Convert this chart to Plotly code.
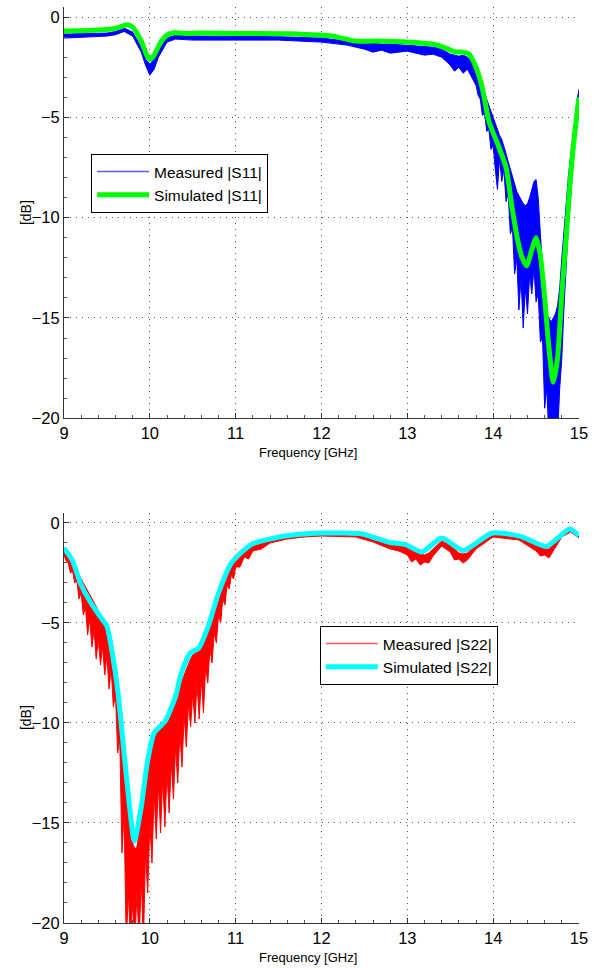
import plotly.graph_objects as go

# ---------------- data: |S11| ----------------
s11_sim_f = [9.0, 9.2, 9.4, 9.55, 9.65, 9.73, 9.8, 9.9, 9.97, 10.0, 10.05, 10.12, 10.2, 10.28,
             10.4, 10.6, 11.0, 11.5, 11.72, 12.1, 12.4, 12.63, 13.02, 13.32, 13.45, 13.55, 13.65,
             13.72, 13.8, 13.86, 13.9, 13.95, 14.05, 14.15, 14.22, 14.28, 14.33, 14.39, 14.45,
             14.5, 14.55, 14.6, 14.65, 14.7, 14.75, 14.8, 14.85, 14.9, 14.95, 15.0]
s11_sim = [-0.7, -0.68, -0.65, -0.6, -0.5, -0.38, -0.5, -1.2, -1.95, -2.1, -1.9, -1.3, -0.9, -0.78,
           -0.82, -0.8, -0.82, -0.83, -0.85, -0.93, -1.2, -1.2, -1.26, -1.37, -1.55, -1.74, -1.75,
           -1.85, -2.5, -3.3, -4.1, -5.2, -6.3, -7.5, -9.5, -11.0, -11.9, -12.4, -11.6,
           -11.0, -11.9, -14.0, -16.5, -18.2, -17.0, -13.8, -11.0, -8.0, -5.8, -4.0]

s11_meas_f = [9.0, 9.3, 9.5, 9.6, 9.7, 9.8, 9.9, 9.95, 10.0, 10.05, 10.1, 10.2, 10.3, 10.5, 11.0,
              11.5, 12.0, 12.3, 12.5, 12.6, 12.7, 12.8, 13.0, 13.2, 13.3, 13.4, 13.5, 13.55, 13.6,
              13.65, 13.7, 13.75,
              13.8, 13.825, 13.85, 13.875, 13.9, 13.925, 13.95, 13.975, 14.0, 14.025, 14.05, 14.075,
              14.1, 14.125, 14.15, 14.175, 14.2, 14.225, 14.25, 14.275, 14.3, 14.325, 14.35, 14.375,
              14.4, 14.425, 14.45, 14.475, 14.5, 14.525, 14.55, 14.575, 14.6, 14.625, 14.65, 14.675,
              14.7, 14.725, 14.75, 14.775, 14.8, 14.825, 14.85, 14.875, 14.9, 14.925, 14.95, 14.975,
              15.0]
s11_meas_hi = [-0.85, -0.82, -0.8, -0.72, -0.55, -0.75, -1.5, -2.1, -2.35, -2.1, -1.6, -1.05, -0.9,
               -0.95, -0.97, -0.98, -1.05, -1.2, -1.3, -1.3, -1.35, -1.35, -1.4, -1.45, -1.5, -1.6,
               -1.85, -1.9, -1.95, -1.9, -2.0, -2.2,
               -2.6, -2.9, -3.2, -3.5, -3.8, -4.1, -4.5, -4.8, -5.1, -5.4, -5.7, -5.9,
               -6.1, -6.4, -6.8, -7.2, -7.6, -8.0, -8.4, -8.7, -8.9, -9.1, -9.3, -9.4,
               -9.3, -9.0, -8.6, -8.2, -8.1, -9.0, -10.8, -12.5, -14.0, -14.8, -15.0, -15.2,
               -15.0, -14.8, -14.4, -13.5, -12.0, -10.6, -9.2, -8.0, -7.0, -6.0, -5.0, -4.2,
               -3.6]
s11_meas_lo = [-1.05, -1.0, -0.95, -0.88, -0.72, -0.95, -1.75, -2.4, -2.9, -2.6, -2.0, -1.25, -1.1,
               -1.15, -1.15, -1.15, -1.25, -1.4, -1.6, -1.75, -1.65, -1.8, -1.7, -1.9, -1.85, -2.0,
               -2.4, -2.7, -2.5, -2.8, -2.6, -3.0,
               -3.4, -3.9, -4.1, -4.9, -4.8, -5.7, -5.6, -6.6, -6.4, -7.6, -8.6, -7.0,
               -8.2, -7.6, -9.2, -8.8, -10.8, -10.5, -12.8, -12.0, -14.6, -13.0, -15.5, -13.5,
               -14.8, -12.8, -13.8, -12.5, -14.2, -13.8, -16.2, -16.0, -19.5, -18.5, -21.0, -21.0,
               -21.0, -21.0, -21.0, -18.5, -17.0, -14.5, -12.5, -10.5, -9.2, -7.5, -6.2, -5.0,
               -4.3]

# ---------------- data: |S22| ----------------
s22_sim_f = [9.0, 9.1, 9.19, 9.3, 9.42, 9.5, 9.57, 9.63, 9.73, 9.82, 9.9, 9.97, 10.05, 10.18,
             10.3, 10.36, 10.47, 10.57, 10.68, 10.8, 10.95, 11.18, 11.45, 11.72, 12.02, 12.48,
             12.63, 12.79, 12.98, 13.17, 13.4, 13.65, 13.99, 14.32, 14.62, 14.89, 15.0]
s22_sim = [-1.25, -1.9, -3.0, -3.9, -4.67, -5.17, -6.7, -8.5, -12.8, -15.9, -14.2, -12.0, -10.5, -9.9,
           -8.67, -7.6, -6.5, -6.25, -5.17, -3.5, -2.0, -1.08, -0.75, -0.58, -0.5, -0.55,
           -0.75, -0.97, -1.08, -1.45, -0.75, -1.37, -0.5, -0.67, -1.17, -0.3, -0.63]

s22_meas_f = [9.0, 9.025, 9.05, 9.075, 9.1, 9.125, 9.15, 9.175, 9.2, 9.225, 9.25, 9.275, 9.3,
              9.325, 9.35, 9.375, 9.4, 9.425, 9.45, 9.475, 9.5, 9.525, 9.55, 9.575, 9.6, 9.625,
              9.65, 9.675, 9.7, 9.725, 9.75, 9.775, 9.8, 9.825, 9.85, 9.875, 9.9, 9.925, 9.95,
              9.975, 10.0, 10.025, 10.05, 10.075, 10.1, 10.125, 10.15, 10.175, 10.2, 10.225,
              10.25, 10.275, 10.3, 10.325, 10.35, 10.375, 10.4, 10.425, 10.45, 10.475, 10.5,
              10.525, 10.55, 10.575, 10.6, 10.625, 10.65, 10.675, 10.7, 10.725, 10.75, 10.775,
              10.8, 10.825, 10.85, 10.875, 10.9, 10.925, 10.95, 10.975, 11.0, 11.05, 11.1, 11.15,
              11.2, 11.3, 11.4, 11.6, 11.8, 12.0, 12.4, 12.6, 12.8, 12.9, 13.0, 13.05, 13.1, 13.15,
              13.2, 13.25, 13.3, 13.4, 13.5, 13.55, 13.6, 13.65, 13.7, 13.75, 13.8, 14.0, 14.3,
              14.5, 14.55, 14.6, 14.65, 14.7, 14.8, 14.9, 15.0]
s22_meas_hi = [-1.3, -1.4, -1.55, -1.7, -1.9, -2.1, -2.3, -2.6, -2.8, -3.0, -3.2, -3.4, -3.6,
               -3.8, -4.0, -4.2, -4.4, -4.6, -4.8, -4.95, -5.1, -5.4, -5.8, -6.3, -7.0, -7.8,
               -8.8, -10.0, -11.2, -12.4, -13.5, -14.8, -16.0, -16.3, -16.2, -15.5, -14.8, -13.8, -13.0,
               -12.3, -11.8, -11.2, -10.8, -10.5, -10.3, -10.1, -10.0, -9.9, -9.8, -9.5,
               -9.3, -9.1, -8.9, -8.6, -8.2, -7.9, -7.6, -7.3, -7.0, -6.8, -6.6,
               -6.5, -6.45, -6.4, -6.3, -6.0, -5.7, -5.4, -5.1, -4.7, -4.3, -3.9,
               -3.6, -3.2, -2.9, -2.6, -2.35, -2.1, -1.95, -1.75, -1.6, -1.4, -1.25, -1.15,
               -1.05, -0.95, -0.85, -0.7, -0.6, -0.55, -0.6, -0.8, -1.05, -1.1, -1.2, -1.3, -1.4, -1.5,
               -1.6, -1.5, -1.3, -0.9, -1.1, -1.3, -1.5, -1.55, -1.5, -1.3, -1.0, -0.6, -0.7,
               -1.1, -1.2, -1.3, -1.3, -1.1, -0.6, -0.35, -0.65]
s22_meas_lo = [-1.6, -1.9, -2.0, -2.5, -2.4, -3.0, -2.9, -3.8, -3.5, -4.6, -4.2, -5.6, -4.8,
               -6.2, -5.3, -6.8, -5.8, -7.1, -6.2, -7.6, -6.6, -8.3, -7.3, -9.2, -8.6, -11.5,
               -10.8, -16.5, -14.5, -21.0, -18.5, -21.0, -19.0, -21.0, -18.5, -21.0, -17.8, -21.0, -16.5,
               -18.5, -15.0, -17.0, -13.5, -15.8, -13.0, -15.5, -12.8, -15.2, -12.5, -14.5,
               -12.0, -13.8, -11.2, -13.0, -10.5, -12.2, -9.6, -11.2, -9.0, -10.2, -8.5,
               -10.0, -8.0, -9.8, -7.8, -9.5, -7.2, -8.0, -6.3, -7.0, -5.5, -6.0,
               -4.6, -5.0, -3.8, -4.1, -3.1, -3.3, -2.6, -2.8, -2.2, -2.2, -1.7, -1.8,
               -1.4, -1.3, -1.0, -0.8, -0.7, -0.65, -0.7, -0.95, -1.3, -1.4, -1.6, -1.95, -1.8, -2.1,
               -1.95, -2.0, -1.65, -1.15, -1.45, -1.85, -1.8, -2.0, -1.85, -1.6, -1.3, -0.7, -0.85,
               -1.4, -1.65, -1.6, -1.75, -1.4, -0.7, -0.45, -0.75]

x_ticks = [9, 10, 11, 12, 13, 14, 15]
y_ticks = [0, -5, -10, -15, -20]

FONT = "Liberation Sans, Arial, Helvetica, sans-serif"
BLUE, GREEN, RED, CYAN = "#0000ff", "#00ff00", "#ff0000", "#00ffff"
BLUE_LEG, RED_LEG = "#5a5aff", "#ff5a5a"

fig = go.Figure()

# top subplot
fig.add_trace(go.Scatter(x=[None], y=[None], mode="lines", name="Measured |S11|",
                         line=dict(color=BLUE_LEG, width=1.5), xaxis="x", yaxis="y",
                         legend="legend"))
fig.add_trace(go.Scatter(x=s11_meas_f, y=s11_meas_hi, mode="lines", showlegend=False,
                         line=dict(color=BLUE, width=1), xaxis="x", yaxis="y"))
fig.add_trace(go.Scatter(x=s11_meas_f, y=s11_meas_lo, mode="lines", showlegend=False,
                         fill="tonexty", fillcolor=BLUE,
                         line=dict(color=BLUE, width=1), xaxis="x", yaxis="y"))
fig.add_trace(go.Scatter(x=s11_sim_f, y=s11_sim, mode="lines", name="Simulated |S11|",
                         line=dict(color=GREEN, width=5, shape="spline", smoothing=0.6),
                         xaxis="x", yaxis="y", legend="legend"))

# bottom subplot
fig.add_trace(go.Scatter(x=[None], y=[None], mode="lines", name="Measured |S22|",
                         line=dict(color=RED_LEG, width=1.5), xaxis="x2", yaxis="y2",
                         legend="legend2"))
fig.add_trace(go.Scatter(x=s22_meas_f, y=s22_meas_hi, mode="lines", showlegend=False,
                         line=dict(color=RED, width=1), xaxis="x2", yaxis="y2"))
fig.add_trace(go.Scatter(x=s22_meas_f, y=s22_meas_lo, mode="lines", showlegend=False,
                         fill="tonexty", fillcolor=RED,
                         line=dict(color=RED, width=1), xaxis="x2", yaxis="y2"))
fig.add_trace(go.Scatter(x=s22_sim_f, y=s22_sim, mode="lines", name="Simulated |S22|",
                         line=dict(color=CYAN, width=5, shape="spline", smoothing=0.6),
                         xaxis="x2", yaxis="y2", legend="legend2"))

GRID = dict(showgrid=True, griddash="1px,5px", gridcolor="#555", gridwidth=1)

def xax(anchor):
    return dict(range=[9, 15], tickvals=x_ticks, ticktext=[str(v) for v in x_ticks],
                showline=True, linecolor="#333", linewidth=1, ticks="inside", ticklen=5,
                tickcolor="#333", zeroline=False, anchor=anchor, ticklabeloverflow="allow",
                minor=dict(ticks="inside", ticklen=3, dtick=0.2, tickcolor="#555", showgrid=False),
                tickfont=dict(family=FONT, size=16.5, color="#000"), **GRID)

def yax(domain, anchor):
    return dict(range=[-20, 0.5], tickvals=y_ticks, domain=domain,
                showline=True, linecolor="#333", linewidth=1, ticks="inside", ticklen=5,
                tickcolor="#333", zeroline=False, anchor=anchor, ticklabeloverflow="allow",
                minor=dict(ticks="inside", ticklen=3, dtick=1, tickcolor="#555", showgrid=False),
                tickfont=dict(family=FONT, size=16.5, color="#000"), **GRID)

legend_style = dict(bgcolor="white", bordercolor="black", borderwidth=1,
                    font=dict(family=FONT, size=15.5, color="#000"), traceorder="normal",
                    xanchor="left", yanchor="top", tracegroupgap=0, itemwidth=52)

TITLE_FONT = dict(family=FONT, size=13, color="#000")
YTITLE_FONT = dict(family=FONT, size=14, color="#000")

fig.update_layout(
    width=595, height=969,
    margin=dict(l=63.5, r=9, t=7, b=46),
    paper_bgcolor="white", plot_bgcolor="white",
    showlegend=True,
    xaxis=xax("y"),
    yaxis=yax([0.551, 1.0], "x"),
    xaxis2=xax("y2"),
    yaxis2=yax([0.0, 0.4476], "x2"),
    legend=dict(x=0.0526, y=0.8395, **legend_style),
    legend2=dict(x=0.4967, y=0.3242, **legend_style),
    annotations=[
        dict(text="Frequency [GHz]", xref="paper", yref="paper", x=(311 - 63.5) / 522.5,
             y=(923 - 452) / 916, showarrow=False, font=TITLE_FONT,
             xanchor="center", yanchor="middle"),
        dict(text="Frequency [GHz]", xref="paper", yref="paper", x=(311 - 63.5) / 522.5,
             y=(923 - 957) / 916, showarrow=False, font=TITLE_FONT,
             xanchor="center", yanchor="middle"),
        dict(text="[dB]", xref="paper", yref="paper", x=(25 - 63.5) / 522.5, y=(923 - 213) / 916,
             showarrow=False, textangle=-90, font=YTITLE_FONT,
             xanchor="center", yanchor="middle"),
        dict(text="[dB]", xref="paper", yref="paper", x=(25 - 63.5) / 522.5, y=(923 - 718) / 916,
             showarrow=False, textangle=-90, font=YTITLE_FONT,
             xanchor="center", yanchor="middle"),
    ],
)

fig.write_html("out.html", config={"displayModeBar": False},
               post_script="document.body.style.margin='0';document.body.style.overflow='hidden';")
